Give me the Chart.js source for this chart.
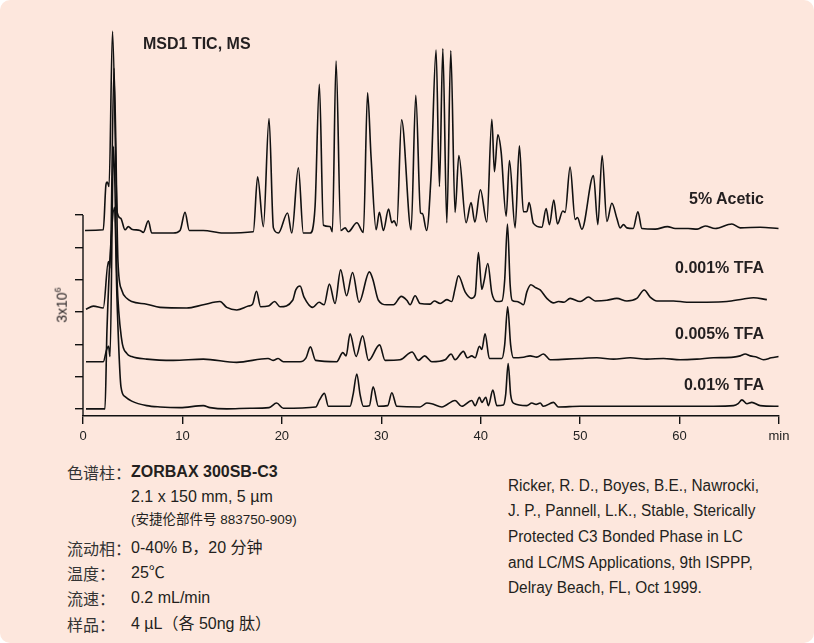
<!DOCTYPE html>
<html>
<head>
<meta charset="utf-8">
<script src="https://cdn.jsdelivr.net/npm/chart.js@4.4.0/dist/chart.umd.min.js"></script>
<style>
  body { margin: 0; background: #fff; }
  #panel {
    position: relative; width: 814px; height: 643px; overflow: hidden;
    background: #fde7dd; border-radius: 10px;
    font-family: "Liberation Sans", Arial, "Noto Sans CJK SC", sans-serif; color: #231f20;
  }
  #plot { position: absolute; left: 0; top: 0; width: 814px; height: 460px; }
  .t { position: absolute; white-space: nowrap; line-height: 1; transform: translateY(-50%); transform-origin: left center; }
  .b { font-weight: bold; font-size: 16px; }
  .lbl { font-weight: bold; font-size: 16px; right: 50px; }
  .cn { font-family: "Noto Sans CJK SC", sans-serif; font-size: 16px; left: 67px; color: #333; }
  .v { font-size: 16px; left: 131px; }
  .cite { font-size: 16px; left: 508px; transform: translateY(-50%) scaleX(0.96); }
  #ylab { position: absolute; left: 61px; top: 305px; font-size: 14px; white-space: nowrap; color: #231f20;
          transform: translate(-50%, -50%) rotate(-90deg); }
  #ylab sup { font-size: 9px; }
</style>
</head>
<body>
<div id="panel">
  <div id="plot"><canvas id="chart"></canvas></div>

  <div class="t b" style="left:143px;top:44px">MSD1 TIC, MS</div>
  <div id="ylab">3x10<sup>6</sup></div>

  <div class="t lbl" style="top:199px">5% Acetic</div>
  <div class="t lbl" style="top:268px">0.001% TFA</div>
  <div class="t lbl" style="top:334px">0.005% TFA</div>
  <div class="t lbl" style="top:385px">0.01% TFA</div>

  <div class="t cn" style="top:472px">色谱柱：</div>
  <div class="t v" style="top:472px;font-weight:bold">ZORBAX 300SB-C3</div>
  <div class="t v" style="top:497px">2.1 x 150 mm, 5 µm</div>
  <div class="t v" style="top:520px;font-size:13.5px">(安捷伦部件号 883750-909)</div>
  <div class="t cn" style="top:548px">流动相：</div>
  <div class="t v" style="top:548px">0-40% B，20 分钟</div>
  <div class="t cn" style="top:573px">温度：</div>
  <div class="t v" style="top:573px">25℃</div>
  <div class="t cn" style="top:598px">流速：</div>
  <div class="t v" style="top:598px">0.2 mL/min</div>
  <div class="t cn" style="top:624px">样品：</div>
  <div class="t v" style="top:624px">4 µL（各 50ng 肽）</div>

  <div class="t cite" style="top:486px">Ricker, R. D., Boyes, B.E., Nawrocki,</div>
  <div class="t cite" style="top:511px">J. P., Pannell, L.K., Stable, Sterically</div>
  <div class="t cite" style="top:537px">Protected C3 Bonded Phase in LC</div>
  <div class="t cite" style="top:563px">and LC/MS Applications, 9th ISPPP,</div>
  <div class="t cite" style="top:588px">Delray Beach, FL, Oct 1999.</div>
</div>

<script>
// retention time (min), signal above the trace's own baseline (x10^5 counts)
const acetic = [
  [0.2, 0.2], [2.04, 0.3], [2.31, 7.3], [2.44, 7.7], [2.62, 7.0], [2.97, 31.0], [3.45, 2.9], [3.79, 2.1],
  [4.23, 0.3], [4.56, 0.8], [4.9, 0.4], [5.73, 0.2], [6.07, -0.1], [6.57, 1.7], [6.91, -0.2], [9.08, -0.2],
  [9.76, 0.2], [10.26, 3.0], [10.69, 0.2], [12.1, 0.2], [14.11, -0.2], [17.13, 0], [17.56, 8.5], [18.14, 0.8],
  [18.71, 17.5], [19.15, 0.6], [19.65, -0.2], [20.57, 2.9], [21.0, -0.2], [21.66, 9.9], [22.16, -0.2], [22.84, -0.2],
  [23.34, 3.9], [23.77, 22.8], [24.18, 1.0], [24.85, 0.8], [25.08, 0], [25.45, 26.4], [25.93, 0.2], [26.36, 0.6],
  [26.69, 0], [27.54, 1.4], [28.2, -0.1], [28.62, 21.5], [28.97, 11.6], [29.48, 0.3], [29.81, 3.0], [30.21, 0.2],
  [30.73, 3.5], [31.06, 1.4], [31.29, 1.7], [31.56, 0.9], [32.04, 17.3], [33.0, 0.3], [33.47, 21.1], [33.95, 2.9],
  [34.14, 2.8], [34.56, 0.2], [35.01, 8.8], [35.51, 28.1], [35.85, 7.0], [36.19, 28.3], [36.59, 1.4], [36.99, 28.0],
  [37.42, 3.0], [37.8, 11.8], [38.53, 1.4], [39.03, 4.5], [39.41, 1.5], [39.97, 6.5], [40.61, 1.5], [41.12, 17.4],
  [41.38, 9.3], [41.72, 15.0], [42.05, 12.4], [42.56, 2.4], [42.89, 11.0], [43.46, 0.6], [43.89, 13.3], [44.29, 3.1],
  [44.64, 3.1], [44.87, 4.5], [45.3, 1.3], [46.15, 0.7], [46.58, 3.6], [46.91, 1.1], [47.35, 4.9], [47.72, 1.2],
  [48.26, 3.2], [48.49, 3.0], [48.99, 10.0], [49.5, 1.9], [49.73, 2.2], [50.17, 0.4], [51.34, 8.7], [51.78, 1.1],
  [52.21, 11.8], [52.69, 1.6], [53.19, 4.4], [53.69, 2.1], [54.02, 0.6], [54.36, 1.1], [54.7, 0.6], [55.33, 0.5],
  [55.81, 3.1], [56.21, 0.5], [57.55, 0.4], [58.78, 0.8], [59.56, 0.5], [60.87, 0.5], [61.77, 0.4], [62.58, 0.9],
  [63.58, 0.5], [65.26, 1.2], [66.1, 0.6], [68.11, 0.7], [69.95, 0.5]
];
const tfa0001 = [
  [0.3, -0.2], [1.04, 0.3], [2.04, 0], [2.55, 7.2], [2.72, 6.2], [3.12, 37.1], [3.52, 7.1], [3.89, 2.8],
  [4.4, 1.5], [4.9, 1.0], [6.41, 0.6], [7.75, 0.1], [10.43, 0], [12.1, 0.5], [13.78, 1.0], [14.46, 0.1],
  [15.46, -0.3], [16.63, 0.3], [17.05, 0.6], [17.45, 2.6], [17.86, 0.2], [18.64, 0.3], [19.27, 1.0], [19.82, 0.2],
  [21.09, 1.2], [21.4, 2.8], [21.83, 3.4], [22.23, 1.7], [23.11, 0.1], [23.74, 0.9], [24.25, 0.5], [24.78, 3.7],
  [25.35, 0.7], [25.91, 5.9], [26.51, 1.9], [27.11, 5.5], [27.77, 0.9], [28.8, 5.6], [29.14, 4.5], [29.71, 1.2],
  [30.55, 0.5], [31.22, 0.5], [32.01, 1.8], [32.57, 1.2], [32.9, 0.5], [33.4, 1.9], [33.9, 0.7], [34.91, 0.6],
  [35.34, 1.1], [35.92, 0.7], [36.59, 1.3], [37.09, 1.0], [37.42, 3.0], [37.76, 5.0], [38.43, 2.5], [39.1, 1.5],
  [39.44, 2.0], [39.77, 8.6], [40.11, 2.9], [40.34, 4.2], [40.71, 6.9], [41.12, 2.3], [41.62, 1.0], [42.13, 1.1],
  [42.41, 4.3], [42.69, 13.0], [42.96, 3.6], [43.16, 1.2], [43.63, 1.0], [43.96, 0.8], [44.3, 0.5], [44.64, 2.5],
  [45.04, 3.6], [45.47, 3.2], [45.98, 2.8], [46.65, 1.5], [47.32, 0.8], [47.82, 1.0], [48.39, 0.9], [48.99, 1.5],
  [50.0, 1.0], [50.84, 1.7], [51.51, 1.1], [52.69, 1.2], [53.69, 1.5], [54.7, 1.1], [55.7, 1.5], [56.44, 2.8],
  [57.04, 1.7], [57.72, 1.1], [59.39, 1.1], [60.73, 0.9], [62.74, 0.9], [64.76, 1.0], [66.43, 1.4], [67.43, 1.6],
  [68.78, 1.3]
];
const tfa0005 = [
  [0.3, 0], [2.04, 0], [2.38, 1.9], [2.57, 2.4], [2.72, 0.8], [3.07, 33.3], [3.42, 12.7], [3.89, 3.4],
  [4.4, 1.3], [4.9, 0.8], [6.41, 0.4], [9.08, 0.2], [12.1, 0.4], [15.46, -0.1], [18.61, 0.5], [19.11, 0.2],
  [19.62, 0.5], [20.15, 0], [21.83, 0], [22.43, 0.6], [22.87, 2.3], [23.39, 0.2], [25.52, 0], [26.13, 1.4],
  [26.46, 0.9], [26.86, 4.3], [27.47, 0.8], [28.12, 4.0], [28.72, 0.2], [29.83, 2.6], [30.38, 0.2], [31.89, 0.3],
  [33.1, 1.5], [33.73, 0.2], [34.36, 0.9], [35.08, 0], [36.42, 0.3], [37.02, 1.2], [37.42, 0.3], [38.26, 1.6],
  [38.66, 0.6], [39.1, 0.9], [39.44, 0.6], [39.87, 2.4], [40.11, 1.9], [40.44, 4.3], [40.87, 0.5], [42.13, 0.5],
  [42.41, 2.6], [42.71, 8.5], [43.01, 2.6], [43.29, 0.6], [44.3, 0.7], [44.97, 0.9], [45.64, 0.7], [46.31, 1.2],
  [46.98, 0.3], [48.66, 0.4], [50.0, 0.5], [51.68, 0.6], [53.35, 0.4], [55.03, 0.6], [56.71, 0.4], [58.38, 0.5],
  [60.06, 0.3], [61.74, 0.4], [63.41, 0.6], [65.42, 0.7], [66.1, 0.9], [66.6, 1.2], [67.1, 0.9], [67.78, 0.7],
  [68.44, 0.3], [69.22, 0.6], [69.95, 0.8]
];
const tfa001 = [
  [0.3, 0], [2.21, 0], [2.41, 12.2], [2.82, 26.1], [3.17, 31.2], [3.42, 16.9], [3.82, 3.4], [4.23, 1.9],
  [4.9, 1.2], [6.41, 0.5], [7.75, 0.3], [9.76, 0.2], [12.1, 0.5], [12.78, 0.2], [14.46, 0], [16.8, 0.1],
  [18.71, 0.2], [19.47, 0.9], [20.15, 0.1], [23.41, 0.3], [23.79, 1.4], [24.28, 2.4], [24.68, 0.4], [26.86, 0.4],
  [27.16, 2.2], [27.54, 5.4], [27.87, 2.2], [28.2, 0.4], [28.8, 0.5], [29.18, 3.4], [29.71, 0.4], [30.65, 0.5],
  [31.06, 2.5], [31.56, 0.4], [33.9, 0.3], [34.58, 0.9], [35.08, 0.8], [36.09, 0.3], [37.42, 1.3], [38.1, 0.4],
  [39.1, 1.3], [39.44, 0.5], [39.87, 1.8], [40.11, 1.0], [40.51, 1.8], [40.77, 0.5], [41.22, 2.9], [41.62, 0.5],
  [42.28, 0.6], [42.51, 2.2], [42.76, 7.0], [43.01, 2.2], [43.29, 0.9], [44.64, 0.5], [45.14, 0.9], [45.57, 0.7],
  [45.98, 0.9], [46.31, 0.4], [47.32, 1.0], [47.82, 0.3], [50.0, 0.4], [53.35, 0.4], [56.71, 0.4], [60.06, 0.4],
  [63.41, 0.4], [65.42, 0.5], [65.89, 0.8], [66.27, 1.4], [66.77, 0.8], [67.27, 1.0], [68.11, 0.5], [69.95, 0.4]
];

const traceNames = ['5% Acetic', '0.001% TFA', '0.005% TFA', '0.01% TFA'];
const traceOffsets = [27.4, 15.6, 7.3, 0];   // stacked display offsets (x10^5)
const xTicks = [0, 10, 20, 30, 40, 50, 60, 70];
const xTickLabels = ['0', '10', '20', '30', '40', '50', '60', 'min'];
const yTicks = [0, 5, 10, 15, 20, 25, 30];

const ink = '#111';
const fontFamily = '"Liberation Sans", Arial, sans-serif';

const traces = [acetic, tfa0001, tfa0005, tfa001];
const datasets = traces.map((pts, i) => ({
  label: traceNames[i],
  data: pts.map(p => ({ x: p[0], y: p[1] + traceOffsets[i] })),
  borderColor: ink,
  borderWidth: 1.6,
  pointRadius: 0,
  fill: false,
  cubicInterpolationMode: 'monotone'
}));

// short y axis: runs only from the top tick down to the x axis
const yAxisLine = {
  id: 'yAxisLine',
  afterDraw(chart) {
    const { ctx, chartArea, scales } = chart;
    const top = scales.y.getPixelForValue(yTicks[yTicks.length - 1]);
    ctx.save();
    ctx.strokeStyle = ink;
    ctx.lineWidth = 1.4;
    ctx.beginPath();
    ctx.moveTo(chartArea.left, top);
    ctx.lineTo(chartArea.left, chartArea.bottom);
    ctx.stroke();
    ctx.restore();
  }
};

new Chart(document.getElementById('chart'), {
  type: 'line',
  data: { datasets: datasets },
  options: {
    responsive: true,
    maintainAspectRatio: false,
    animation: false,
    layout: { padding: { left: 73, right: 35, top: 21, bottom: 0 } },
    plugins: { legend: { display: false }, tooltip: { enabled: false } },
    scales: {
      x: {
        type: 'linear',
        min: 0,
        max: 70,
        afterBuildTicks: s => { s.ticks = xTicks.map(v => ({ value: v })); },
        afterFit: s => { s.height = 44; },
        ticks: {
          callback: v => xTickLabels[xTicks.indexOf(v)],
          color: '#222',
          font: { family: fontFamily, size: 13 },
          padding: 5,
          maxRotation: 0
        },
        grid: { drawOnChartArea: false, tickLength: 8, color: ink, lineWidth: 1.4 },
        border: { color: ink, width: 1.4 }
      },
      y: {
        min: -1.1,
        max: 60,
        afterBuildTicks: s => { s.ticks = yTicks.map(v => ({ value: v })); },
        afterFit: s => { s.width = 10; },
        ticks: { display: false },
        grid: { drawOnChartArea: false, tickLength: 8, color: ink, lineWidth: 1.4 },
        border: { display: false }
      }
    }
  },
  plugins: [yAxisLine]
});
</script>
</body>
</html>
